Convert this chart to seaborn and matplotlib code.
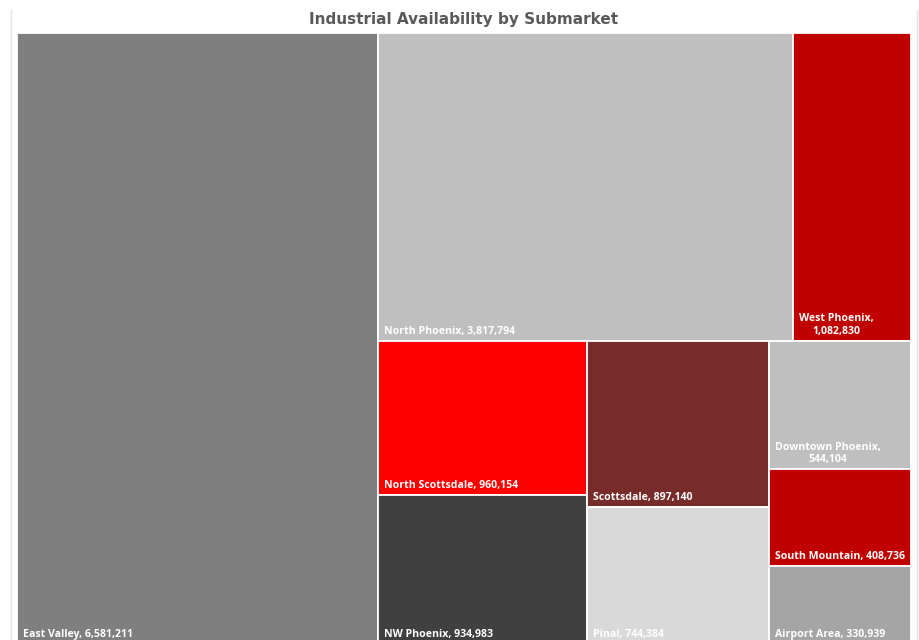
import matplotlib
matplotlib.use("Agg")
import matplotlib.pyplot as plt
from matplotlib.lines import Line2D
import seaborn as sns

# ---- data ----
submarkets = ["East Valley", "North Phoenix", "West Phoenix", "North Scottsdale",
              "NW Phoenix", "Scottsdale", "Pinal", "Downtown Phoenix",
              "South Mountain", "Airport Area"]
availability = [6581211, 3817794, 1082830, 960154, 934983, 897140, 744384,
                544104, 408736, 330939]
colors = ["#7F7F7F", "#BFBFBF", "#C00000", "#FF0000", "#404040", "#782B2B",
          "#D9D9D9", "#BFBFBF", "#C00000", "#A5A5A5"]
title = "Industrial Availability by Submarket"

sns.set_theme(style="white")
plt.rcParams["font.family"] = ["Open Sans", "DejaVu Sans"]

W, H = 894.0, 611.0  # layout box (pixel-like units)


def squarify_avg(values, x, y, w, h):
    """Squarified treemap using mean aspect ratio as row criterion."""
    total = float(sum(values))
    scaled = [v / total * w * h for v in values]
    rects = []
    i = 0
    while i < len(scaled):
        vertical = w >= h  # lay out a column along height when wide
        side = h if vertical else w

        def ratios(row):
            s = sum(row)
            thick = s / side
            out = []
            for a in row:
                length = a / thick
                out.append(max(thick / length, length / thick))
            return sum(out) / len(out)

        row = [scaled[i]]
        j = i + 1
        while j < len(scaled):
            cand = row + [scaled[j]]
            if ratios(cand) <= ratios(row):
                row = cand
                j += 1
            else:
                break
        s = sum(row)
        thick = s / side
        pos = 0.0
        for a in row:
            length = a / thick
            if vertical:
                rects.append((x, y + pos, thick, length))
            else:
                rects.append((x + pos, y, length, thick))
            pos += length
        if vertical:
            x += thick
            w -= thick
        else:
            y += thick
            h -= thick
        i = j
    return rects


rects = squarify_avg(availability, 0.0, 0.0, W, H)

fig = plt.figure(figsize=(9.2, 6.4), dpi=100)
ax = fig.add_axes([17 / 920, -4 / 640, W / 920, H / 640])
ax.set_xlim(0, W)
ax.set_ylim(H, 0)
ax.axis("off")

lefts = [r[0] for r in rects]
tops = [r[1] for r in rects]
widths = [r[2] for r in rects]
heights = [r[3] for r in rects]
ax.bar(lefts, heights, width=widths, bottom=tops, align="edge",
       color=colors, edgecolor="white", linewidth=1.3)

fig.canvas.draw()
renderer = fig.canvas.get_renderer()
for name, val, (rx, ry, rw, rh) in zip(submarkets, availability, rects):
    label = f"{name}, {val:,}"
    t = ax.text(rx + 6, ry + rh - 4, label, color="white", fontsize=7.6,
                fontweight="bold", ha="left", va="bottom",
                multialignment="center")
    bb = t.get_window_extent(renderer)
    if bb.width > rw - 8:
        t.set_text(f"{name},\n{val:,}")

fig.text(0.504, 0.970, title, ha="center", va="center", fontsize=11,
         fontweight="bold", color="#595959", family=["DejaVu Sans"])

for xf in (11 / 920, 917 / 920):
    fig.add_artist(Line2D([xf, xf], [0, 1 - 10 / 640], transform=fig.transFigure,
                          color="#E3E3E3", linewidth=1))

fig.savefig("out.png", dpi=100)
